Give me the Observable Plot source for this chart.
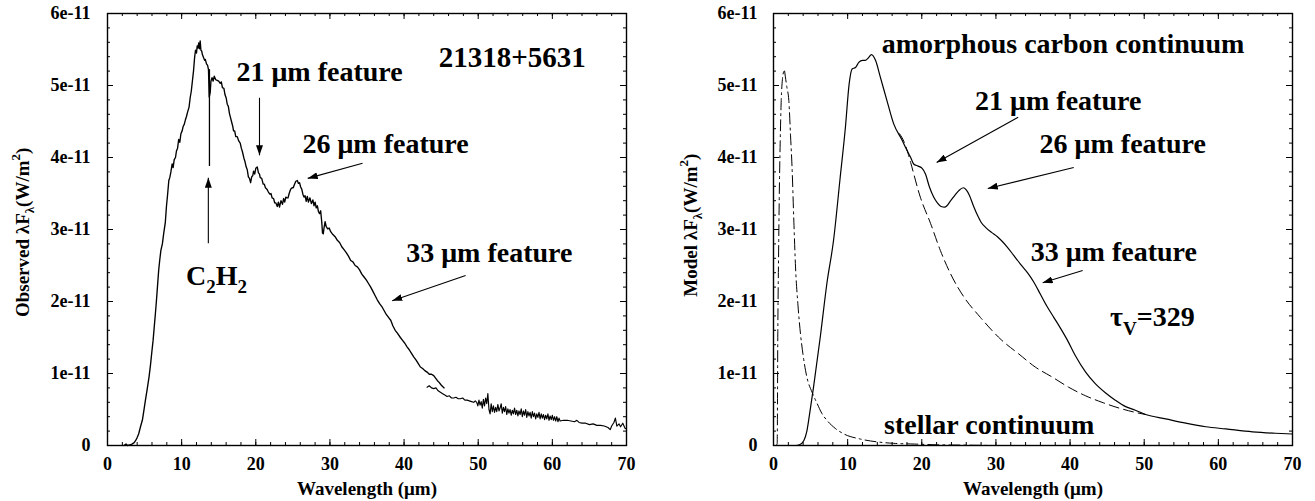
<!DOCTYPE html>
<html><head><meta charset="utf-8">
<script src="https://cdn.jsdelivr.net/npm/d3@7"></script>
<script src="https://cdn.jsdelivr.net/npm/@observablehq/plot@0.6"></script>
<style>
html,body{margin:0;padding:0;background:#fff;}
#wrap{display:flex;width:1315px;height:501px;overflow:hidden;}
</style></head><body><div id="wrap"></div>
<script>
// ---- tick values & labels ----
const xTicks = [0, 10, 20, 30, 40, 50, 60, 70];
const xTickLabels = ["0", "10", "20", "30", "40", "50", "60", "70"];
const yTicks = [0, 1, 2, 3, 4, 5, 6];           // units of 1e-11 W/m^2
const yTickLabels = ["0", "1e-11", "2e-11", "3e-11", "4e-11", "5e-11", "6e-11"];
const xLabel = "Wavelength (\u03bcm)";
const yLabelLeft = "Observed \u03bbF_{\u03bb}(W/m^{2})";
const yLabelRight = "Model \u03bbF_{\u03bb}(W/m^{2})";

// ---- observed spectrum (wavelength um, flux 1e-11 W/m^2), short-wavelength segment ----
const observedShort = [[2.2,0.0],[2.5,0.02],[2.7,0.0],[3.0,0.01],[3.3,0.02],[3.6,0.04],[3.8,0.07],[4.0,0.11],[4.2,0.16],[4.45,0.26],[4.7,0.35],[4.9,0.48],[5.1,0.62],[5.35,0.78],[5.6,0.95],[5.8,1.12],[6.0,1.32],[6.15,1.46],[6.3,1.64],[6.45,1.82],[6.6,2.01],[6.75,2.22],[6.9,2.43],[7.05,2.58],[7.2,2.71],[7.4,2.80],[7.6,2.96],[7.8,3.10],[7.95,3.32],[8.1,3.48],[8.27,3.68],[8.4,3.72],[8.55,3.80],[8.72,3.91],[8.85,3.86],[9.0,3.97],[9.17,4.00],[9.3,4.09],[9.45,4.13],[9.6,4.25],[9.75,4.21],[9.9,4.33],[10.07,4.37],[10.2,4.43],[10.35,4.46],[10.5,4.52],[10.65,4.57],[10.8,4.63],[11.0,4.70],[11.15,4.83],[11.3,4.92],[11.45,5.06],[11.6,5.20],[11.75,5.39],[11.87,5.49],[12.0,5.45],[12.1,5.55],[12.2,5.52],[12.3,5.59],[12.4,5.51],[12.5,5.62],[12.6,5.49],[12.7,5.48],[12.8,5.43],[12.95,5.39],[13.1,5.35],[13.2,5.36],[13.35,5.30],[13.5,5.28],[13.62,5.22],[13.72,4.84],[13.85,4.90],[13.95,5.06],[14.1,5.11],[14.25,5.06],[14.4,5.13],[14.6,5.08],[14.8,5.07],[15.0,5.06],[15.2,5.03],[15.35,5.05],[15.5,4.97],[15.7,4.96],[15.85,4.87],[16.0,4.83],[16.15,4.74],[16.3,4.71],[16.45,4.61],[16.6,4.55],[16.75,4.49],[16.9,4.43],[17.0,4.37],[17.15,4.37],[17.3,4.29],[17.5,4.29],[17.7,4.23],[17.9,4.20],[18.05,4.13],[18.2,4.08],[18.4,3.99],[18.55,3.94],[18.7,3.87],[18.85,3.83],[19.0,3.73],[19.15,3.71],[19.3,3.65],[19.45,3.73],[19.6,3.75],[19.7,3.81],[19.85,3.77],[20.0,3.85],[20.2,3.87],[20.35,3.79],[20.5,3.77],[20.6,3.72],[20.8,3.71],[21.0,3.63],[21.15,3.63],[21.3,3.58],[21.5,3.56],[21.7,3.52],[21.9,3.49],[22.05,3.50],[22.2,3.44],[22.4,3.43],[22.55,3.37],[22.7,3.37],[22.9,3.32],[23.05,3.38],[23.2,3.31],[23.4,3.40],[23.6,3.35],[23.75,3.43],[23.9,3.38],[24.05,3.45],[24.2,3.44],[24.35,3.44],[24.5,3.50],[24.7,3.56],[24.9,3.58],[25.05,3.58],[25.2,3.62],[25.4,3.67],[25.6,3.68],[25.75,3.64],[25.9,3.65],[26.05,3.59],[26.2,3.56],[26.35,3.49],[26.5,3.45],[26.65,3.47],[26.8,3.39],[26.95,3.46],[27.1,3.38],[27.3,3.44],[27.5,3.36],[27.7,3.41],[27.85,3.33],[28.0,3.38],[28.15,3.30],[28.3,3.33],[28.45,3.25],[28.6,3.22],[28.75,3.26],[28.9,3.10],[29.0,2.95],[29.1,2.94],[29.2,3.02],[29.35,3.11],[29.5,3.04],[29.7,3.01],[29.9,3.02],[30.1,2.97],[30.4,2.93],[30.7,2.90],[31.0,2.85],[31.3,2.82],[31.6,2.76],[31.9,2.72],[32.2,2.68],[32.5,2.63],[32.8,2.57],[33.1,2.55],[33.4,2.50],[33.7,2.48],[34.0,2.44],[34.3,2.38],[34.6,2.34],[34.9,2.30],[35.2,2.25],[35.5,2.20],[35.8,2.14],[36.1,2.08],[36.4,2.02],[36.7,1.97],[37.0,1.93],[37.3,1.875],[37.6,1.82],[37.9,1.78],[38.2,1.74],[38.5,1.66],[38.8,1.60],[39.1,1.56],[39.5,1.50],[39.8,1.46],[40.1,1.42],[40.4,1.37],[40.7,1.33],[41.0,1.28],[41.3,1.23],[41.6,1.19],[41.9,1.14],[42.2,1.09],[42.5,1.07],[42.8,1.04],[43.1,1.02],[43.4,0.99],[43.7,0.99],[44.0,0.97],[44.3,0.93],[44.5,0.90],[44.7,0.88],[45.0,0.84],[45.2,0.82],[45.4,0.80]];

// ---- observed spectrum, long-wavelength segment ----
const observedLong = [[43.1,0.81],[43.4,0.83],[43.7,0.80],[44.0,0.79],[44.3,0.80],[44.6,0.76],[44.9,0.74],[45.2,0.72],[45.5,0.70],[45.8,0.68],[46.1,0.69],[46.4,0.66],[46.7,0.66],[47.0,0.67],[47.3,0.65],[47.6,0.65],[47.9,0.66],[48.2,0.63],[48.5,0.63],[48.8,0.62],[49.1,0.61],[49.4,0.60],[49.6,0.62],[49.8,0.60],[49.95,0.55],[50.1,0.63],[50.25,0.56],[50.4,0.61],[50.55,0.52],[50.7,0.64],[50.85,0.55],[51.0,0.66],[51.15,0.58],[51.3,0.72],[51.45,0.50],[51.6,0.44],[51.75,0.58],[51.9,0.47],[52.05,0.55],[52.2,0.46],[52.35,0.53],[52.5,0.47],[52.65,0.57],[52.8,0.48],[52.95,0.52],[53.1,0.58],[53.25,0.45],[53.4,0.53],[53.55,0.47],[53.7,0.54],[53.85,0.43],[54.0,0.51],[54.15,0.45],[54.3,0.50],[54.45,0.42],[54.6,0.49],[54.75,0.44],[54.9,0.52],[55.05,0.43],[55.2,0.49],[55.35,0.41],[55.5,0.48],[55.65,0.43],[55.8,0.51],[55.95,0.40],[56.1,0.48],[56.25,0.42],[56.4,0.50],[56.55,0.39],[56.7,0.47],[56.85,0.41],[57.0,0.46],[57.15,0.38],[57.3,0.47],[57.45,0.40],[57.6,0.45],[57.75,0.37],[57.9,0.44],[58.05,0.39],[58.2,0.46],[58.35,0.37],[58.5,0.44],[58.65,0.38],[58.8,0.43],[58.95,0.36],[59.1,0.42],[59.25,0.37],[59.4,0.44],[59.55,0.35],[59.7,0.41],[59.85,0.36],[60.0,0.42],[60.15,0.35],[60.3,0.40],[60.45,0.34],[60.6,0.40],[60.75,0.33],[60.9,0.38],[61.05,0.34],[61.5,0.35],[62.0,0.35],[62.5,0.34],[63.0,0.33],[63.3,0.35],[63.6,0.32],[64.0,0.31],[64.5,0.31],[65.0,0.29],[65.5,0.30],[66.0,0.28],[66.5,0.28],[67.0,0.27],[67.5,0.25],[67.8,0.22],[68.0,0.27],[68.3,0.32],[68.5,0.38],[68.7,0.27],[69.0,0.30],[69.2,0.26],[69.5,0.31],[69.8,0.24],[70.0,0.23]];

// ---- model: total, amorphous carbon continuum, stellar continuum ----
const modelTotal = [[0,0],[3.0,0],[3.5,0.01],[4.1,0.07],[4.5,0.2],[4.8,0.39],[5.4,0.81],[6.3,1.50],[7.2,2.25],[8.1,2.85],[9.0,3.73],[9.7,4.42],[10.2,5.02],[10.6,5.23],[11.06,5.25],[11.5,5.32],[12.0,5.35],[12.4,5.35],[12.85,5.39],[13.2,5.43],[13.76,5.35],[14.4,5.12],[15.3,4.79],[16.2,4.47],[17.35,4.24],[18.0,4.10],[18.5,4.0],[18.9,3.91],[19.5,3.88],[20.05,3.85],[20.5,3.77],[21.0,3.60],[21.6,3.45],[22.1,3.37],[22.6,3.32],[23.1,3.31],[23.9,3.40],[24.5,3.48],[25.0,3.54],[25.6,3.58],[26.0,3.55],[26.4,3.48],[27.0,3.32],[27.5,3.20],[28.0,3.10],[28.6,3.03],[29.4,2.96],[30.2,2.90],[31.5,2.76],[32.4,2.64],[33.3,2.52],[34.4,2.38],[35.1,2.27],[36.0,2.10],[36.9,1.93],[37.8,1.78],[38.7,1.63],[39.6,1.47],[40.7,1.25],[42.1,1.02],[43.4,0.86],[44.8,0.73],[46.1,0.63],[47.5,0.54],[48.8,0.49],[50.2,0.43],[52.9,0.37],[55.6,0.31],[58.3,0.26],[61.0,0.23],[64.6,0.19],[67.7,0.17],[70,0.16]];
const carbonContinuum = [[17.0,4.33],[17.6,4.22],[18.2,4.04],[18.5,3.93],[19.8,3.45],[21.2,3.08],[22.5,2.71],[23.9,2.38],[25.7,2.06],[27.9,1.78],[30.7,1.47],[33.1,1.27],[35.3,1.09],[37.6,0.95],[39.8,0.81],[42.1,0.69],[44.3,0.60],[46.6,0.52],[48.8,0.46],[50.2,0.43]];
const stellarContinuum = [[0.35,0.0],[0.5,0.03],[0.58,1.55],[0.68,2.6],[0.77,3.40],[0.9,4.2],[1.04,4.79],[1.2,5.08],[1.3,5.16],[1.45,5.22],[1.6,5.12],[1.8,4.98],[2.07,4.79],[2.3,4.3],[2.5,3.87],[2.75,3.1],[2.97,2.48],[3.3,1.95],[3.64,1.55],[4.0,1.25],[4.5,0.95],[5.2,0.74],[5.9,0.58],[6.5,0.45],[7.2,0.35],[8.3,0.24],[9.5,0.16],[11.7,0.09],[14,0.05],[16.2,0.03],[19,0.02],[22,0.01],[26,0.005],[30,0.0]];

// ---- annotations ----
const leftNotes = [
  {t: "21318+5631", x: 54.6, y: 5.38, s: 29},
  {t: "21 \u03bcm feature", x: 28.6, y: 5.19, s: 28},
  {t: "26 \u03bcm feature", x: 37.5, y: 4.19, s: 28},
  {t: "33 \u03bcm feature", x: 51.5, y: 2.67, s: 28},
  {t: "C_{2}H_{2}", x: 14.7, y: 2.36, s: 28}
];
const leftArrows = [
  {x1: 20.5, y1: 4.83, x2: 20.5, y2: 4.03},
  {x1: 34.4, y1: 3.92, x2: 27.0, y2: 3.71},
  {x1: 48.3, y1: 2.36, x2: 38.4, y2: 2.01},
  {x1: 13.6, y1: 2.81, x2: 13.6, y2: 3.72}
];
const leftLines = [{x: 13.75, y1: 5.22, y2: 3.875}];
const rightNotes = [
  {t: "amorphous carbon continuum", x: 39.05, y: 5.58, s: 28},
  {t: "21 \u03bcm feature", x: 38.4, y: 4.79, s: 28},
  {t: "26 \u03bcm feature", x: 47.1, y: 4.19, s: 28},
  {t: "33 \u03bcm feature", x: 45.9, y: 2.69, s: 28},
  {t: "\u03c4_{V}=329", x: 51.1, y: 1.78, s: 28},
  {t: "stellar continuum", x: 29.1, y: 0.29, s: 28}
];
const rightArrows = [
  {x1: 33.0, y1: 4.56, x2: 22.0, y2: 3.93},
  {x1: 40.5, y1: 3.86, x2: 28.9, y2: 3.57},
  {x1: 41.7, y1: 2.43, x2: 36.3, y2: 2.26}
];

const H = 501, MT = 13, MB = 56;
const FONT = "'Liberation Serif', 'Times New Roman', serif";

function panel(cfg) {
  const fw = cfg.width - cfg.marginLeft - cfg.marginRight;
  const fh = H - MT - MB;
  const xMinor = d3.range(0, 71, 2);
  const yMinor = d3.range(0, 6.01, 0.2);
  return Plot.plot({
    width: cfg.width, height: H,
    marginLeft: cfg.marginLeft, marginRight: cfg.marginRight, marginTop: MT, marginBottom: MB,
    x: {domain: [0, 70], axis: null}, y: {domain: [0, 6], axis: null},
    style: {fontFamily: FONT, fontSize: "18px", fontWeight: "bold", color: "black", background: "white", overflow: "visible"},
    marks: [
      ...cfg.curves,
      // inward ticks: bottom, top, left, right
      Plot.ruleX(xMinor, {insetTop: fh - 3, stroke: "black"}),
      Plot.ruleX(xTicks, {insetTop: fh - 6, stroke: "black"}),
      Plot.ruleX(xMinor, {insetBottom: fh - 3, stroke: "black"}),
      Plot.ruleX(xTicks, {insetBottom: fh - 6, stroke: "black"}),
      Plot.ruleY(yMinor, {insetRight: fw - 3, stroke: "black"}),
      Plot.ruleY(yTicks, {insetRight: fw - 6, stroke: "black"}),
      Plot.ruleY(yMinor, {insetLeft: fw - 3, stroke: "black"}),
      Plot.ruleY(yTicks, {insetLeft: fw - 6, stroke: "black"}),
      Plot.frame({stroke: "black", strokeWidth: 1.4}),
      // tick labels
      Plot.text(xTicks, {x: d => d, frameAnchor: "bottom", textAnchor: "middle", lineAnchor: "top", dy: 12,
        text: (d, i) => xTickLabels[i], fontSize: 18, fontWeight: "bold"}),
      Plot.text(yTicks, {y: d => d, frameAnchor: "left", textAnchor: "end", lineAnchor: "middle", dx: -cfg.yPad,
        text: (d, i) => yTickLabels[i], fontSize: 18, fontWeight: "bold"}),
      // axis titles
      Plot.text([xLabel], {frameAnchor: "bottom", textAnchor: "middle", lineAnchor: "middle", dy: 43, text: d => d, fontSize: 19}),
      Plot.text([cfg.yLabel], {frameAnchor: "left", textAnchor: "middle", lineAnchor: "middle", y: cfg.yLabelY, dx: cfg.yLabelDx, rotate: -90, text: d => d, fontSize: 19}),
      // annotations
      Plot.text(cfg.notes, {x: "x", y: "y", text: "t", fontSize: "s", fontWeight: "bold"}),
      ...(cfg.lines ? [Plot.ruleX(cfg.lines, {x: "x", y1: "y1", y2: "y2", stroke: "black", strokeWidth: 1.3})] : []),
      Plot.link(cfg.arrows, {x1: "x1", y1: "y1", x2: "x2", y2: "y2", stroke: "black", strokeWidth: 1.1})
    ]
  });
}

function richify(svg) {
  const ns = "http://www.w3.org/2000/svg";
  svg.querySelectorAll("text").forEach(t => {
    const s = t.textContent;
    if (!/[_^]\{/.test(s)) return;
    const fs = parseFloat(getComputedStyle(t).fontSize) || 18;
    while (t.firstChild) t.removeChild(t.firstChild);
    let cur = 0, last = 0, m;
    const re = /([_^])\{([^}]*)\}/g;
    const add = (str, target, small) => {
      const ts = document.createElementNS(ns, "tspan");
      ts.textContent = str;
      const dy = target - cur;
      if (dy !== 0) ts.setAttribute("dy", dy.toFixed(2));
      cur = target;
      if (small) ts.setAttribute("font-size", (fs * 0.68).toFixed(1));
      t.appendChild(ts);
    };
    while ((m = re.exec(s))) {
      if (m.index > last) add(s.slice(last, m.index), 0, false);
      add(m[2], m[1] === "_" ? fs * 0.3 : -fs * 0.45, true);
      last = re.lastIndex;
    }
    if (last < s.length) add(s.slice(last), 0, false);
  });
}

function arrowify(svg, id) {
  const ns = "http://www.w3.org/2000/svg";
  const defs = document.createElementNS(ns, "defs");
  defs.innerHTML = `<marker id="${id}" viewBox="0 0 10 7" refX="10" refY="3.5" markerWidth="10" markerHeight="7" markerUnits="userSpaceOnUse" orient="auto"><path d="M0,0L10,3.5L0,7z" fill="black"/></marker>`;
  svg.insertBefore(defs, svg.firstChild);
  svg.querySelectorAll('g[aria-label="link"] path').forEach(p => p.setAttribute("marker-end", `url(#${id})`));
}

const P = d => d[0], Q = d => d[1];
const left = panel({
  width: 657, marginLeft: 107, marginRight: 31, yPad: 17,
  yLabel: yLabelLeft, yLabelY: 2.96, yLabelDx: -85,
  curves: [
    Plot.line(observedShort, {x: P, y: Q, stroke: "black", strokeWidth: 1.35}),
    Plot.line(observedLong, {x: P, y: Q, stroke: "black", strokeWidth: 1.15})
  ],
  notes: leftNotes, arrows: leftArrows, lines: leftLines
});
const right = panel({
  width: 658, marginLeft: 116, marginRight: 23, yPad: 16,
  yLabel: yLabelRight, yLabelY: 3.06, yLabelDx: -83,
  curves: [
    Plot.line(stellarContinuum, {x: P, y: Q, stroke: "black", strokeWidth: 1, strokeDasharray: "11,4,2,4", curve: "monotone-x"}),
    Plot.line(carbonContinuum, {x: P, y: Q, stroke: "black", strokeWidth: 1, strokeDasharray: "10,5", curve: "monotone-x"}),
    Plot.line(modelTotal, {x: P, y: Q, stroke: "black", strokeWidth: 1.2, curve: "monotone-x"})
  ],
  notes: rightNotes, arrows: rightArrows
});
const wrap = document.getElementById("wrap");
wrap.appendChild(left);
wrap.appendChild(right);
richify(left); richify(right);
arrowify(left, "ahL"); arrowify(right, "ahR");
</script>
</body></html>
